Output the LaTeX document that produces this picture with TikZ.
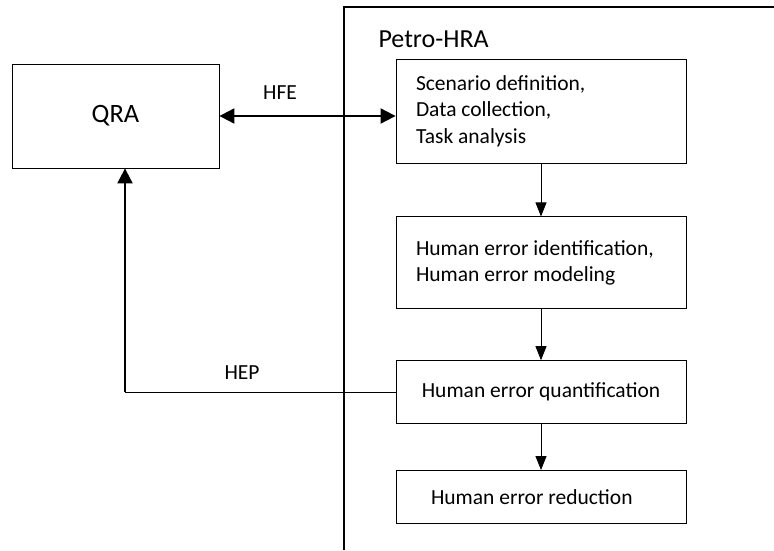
\documentclass[tikz,border=0pt]{standalone}
\usepackage{fontspec}
\setmainfont{Carlito}
\usetikzlibrary{arrows.meta,positioning}

\begin{document}
\begin{tikzpicture}[
  x=1pt,y=-1pt,
  node distance=50pt,
  label text/.style={font=\fontsize{21.5}{26.5}\selectfont},
  phase/.style={draw,line width=0.8pt,minimum width=290pt,inner sep=0pt,label text},
  listed/.style={text width=250pt,align=flush left},
  flow/.style={line width=0.8pt,-{Triangle[length=14pt,width=11pt]}},
  link/.style={line width=2pt}
]
  \useasboundingbox (0,0) rectangle (774,550);

  % Petro-HRA frame
  \draw[line width=2.2pt] (344,550) -- (344,7) -- (774,7);
  \node[anchor=west,font=\fontsize{26}{30}\selectfont] (petro) at (375,39) {Petro-HRA};

  \node[phase,minimum width=207pt,minimum height=104pt,font=\fontsize{26.5}{30}\selectfont] (qra) at (115.5,116) {QRA};

  \node[phase,listed,minimum height=104pt] (scen) at (541,111) {Scenario definition,\\Data collection,\\Task analysis};
  \node[phase,listed,minimum height=92pt,below=53pt of scen] (ident) {Human error identification,\\Human error modeling};
  \node[phase,minimum height=63pt,below=51pt of ident] (quant) {Human error quantification};
  \node[phase,text width=220pt,align=flush left,minimum height=53pt,below=46pt of quant] (reduce) {Human error reduction};

  \draw[flow] (scen) -- (ident);
  \draw[flow] (ident) -- (quant);
  \draw[flow] (quant) -- (reduce);

  \draw[link,{Triangle[length=15pt,width=15pt]}-{Triangle[length=15pt,width=15pt]}] (qra.east) -- (qra.east -| scen.west);
  \node[label text] (hfe) at (280,93) {HFE};

  \coordinate (hepturn) at (125,0 |- quant.west);
  \draw[line width=0.8pt] (quant.west) -- (hepturn);
  \draw[link,-{Triangle[length=15pt,width=15pt]}] (hepturn) -- (hepturn |- qra.south);
  \node[label text] (hep) at (242,373) {HEP};
\end{tikzpicture}
\end{document}
